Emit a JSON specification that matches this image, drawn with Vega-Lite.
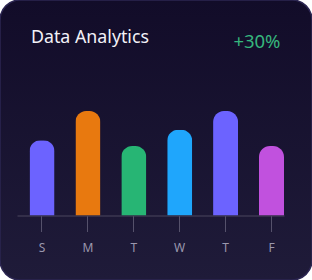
{
  "$schema": "https://vega.github.io/schema/vega-lite/v6.json",
  "width": 312,
  "height": 280,
  "padding": 0,
  "autosize": {"type": "none"},
  "background": "#ffffff",
  "title": {
    "text": "Data Analytics",
    "anchor": "start",
    "frame": "group",
    "dx": 31,
    "offset": -61,
    "baseline": "alphabetic",
    "font": "Noto Sans",
    "fontSize": 17.8,
    "fontWeight": "normal",
    "color": "#f2f1f7"
  },
  "data": {
    "values": [
      {"day": "S", "idx": 1, "value": 72, "color": "#6c63ff"},
      {"day": "M", "idx": 2, "value": 100, "color": "#e8790f"},
      {"day": "T", "idx": 3, "value": 66.5, "color": "#27b574"},
      {"day": "W", "idx": 4, "value": 82, "color": "#1fa6fc"},
      {"day": "T ", "idx": 5, "value": 100, "color": "#6c63ff"},
      {"day": "F", "idx": 6, "value": 66.5, "color": "#c151de"}
    ]
  },
  "mark": {"type": "bar", "cornerRadiusTopLeft": 11, "cornerRadiusTopRight": 11},
  "encoding": {
    "x": {
      "field": "day",
      "type": "nominal",
      "sort": {"field": "idx"},
      "scale": {"range": [17, 284], "paddingInner": 0.455, "paddingOuter": 0.136, "align": 1},
      "axis": {
        "orient": "bottom",
        "offset": -64.5,
        "title": null,
        "labelAngle": 0,
        "domainColor": "#4a465f",
        "domainWidth": 1,
        "tickColor": "#55516b",
        "tickSize": 16,
        "tickWidth": 1,
        "labelColor": "#9a97ad",
        "labelFont": "Noto Sans",
        "labelFontSize": 12,
        "labelPadding": 11,
        "labelExpr": "trim(datum.value)"
      }
    },
    "y": {
      "field": "value",
      "type": "quantitative",
      "scale": {"domain": [-61.7, 206.2], "nice": false, "zero": false},
      "axis": {
        "orient": "right",
        "domain": false,
        "ticks": false,
        "labels": false,
        "grid": false,
        "title": "+30%",
        "titleAngle": 0,
        "titleAlign": "right",
        "titleBaseline": "alphabetic",
        "titleX": -32,
        "titleY": 47.5,
        "titleColor": "#36b67d",
        "titleFont": "Noto Sans",
        "titleFontSize": 18.5,
        "titleFontWeight": "normal"
      }
    },
    "color": {"field": "color", "type": "nominal", "scale": null, "legend": null}
  },
  "config": {
    "view": {
      "cornerRadius": 20,
      "stroke": "#2c2652",
      "strokeWidth": 1.5,
      "fill": {
        "gradient": "linear",
        "x1": 0, "y1": 0, "x2": 0, "y2": 1,
        "stops": [
          {"offset": 0, "color": "#120c29"},
          {"offset": 1, "color": "#1f1b39"}
        ]
      }
    }
  }
}
